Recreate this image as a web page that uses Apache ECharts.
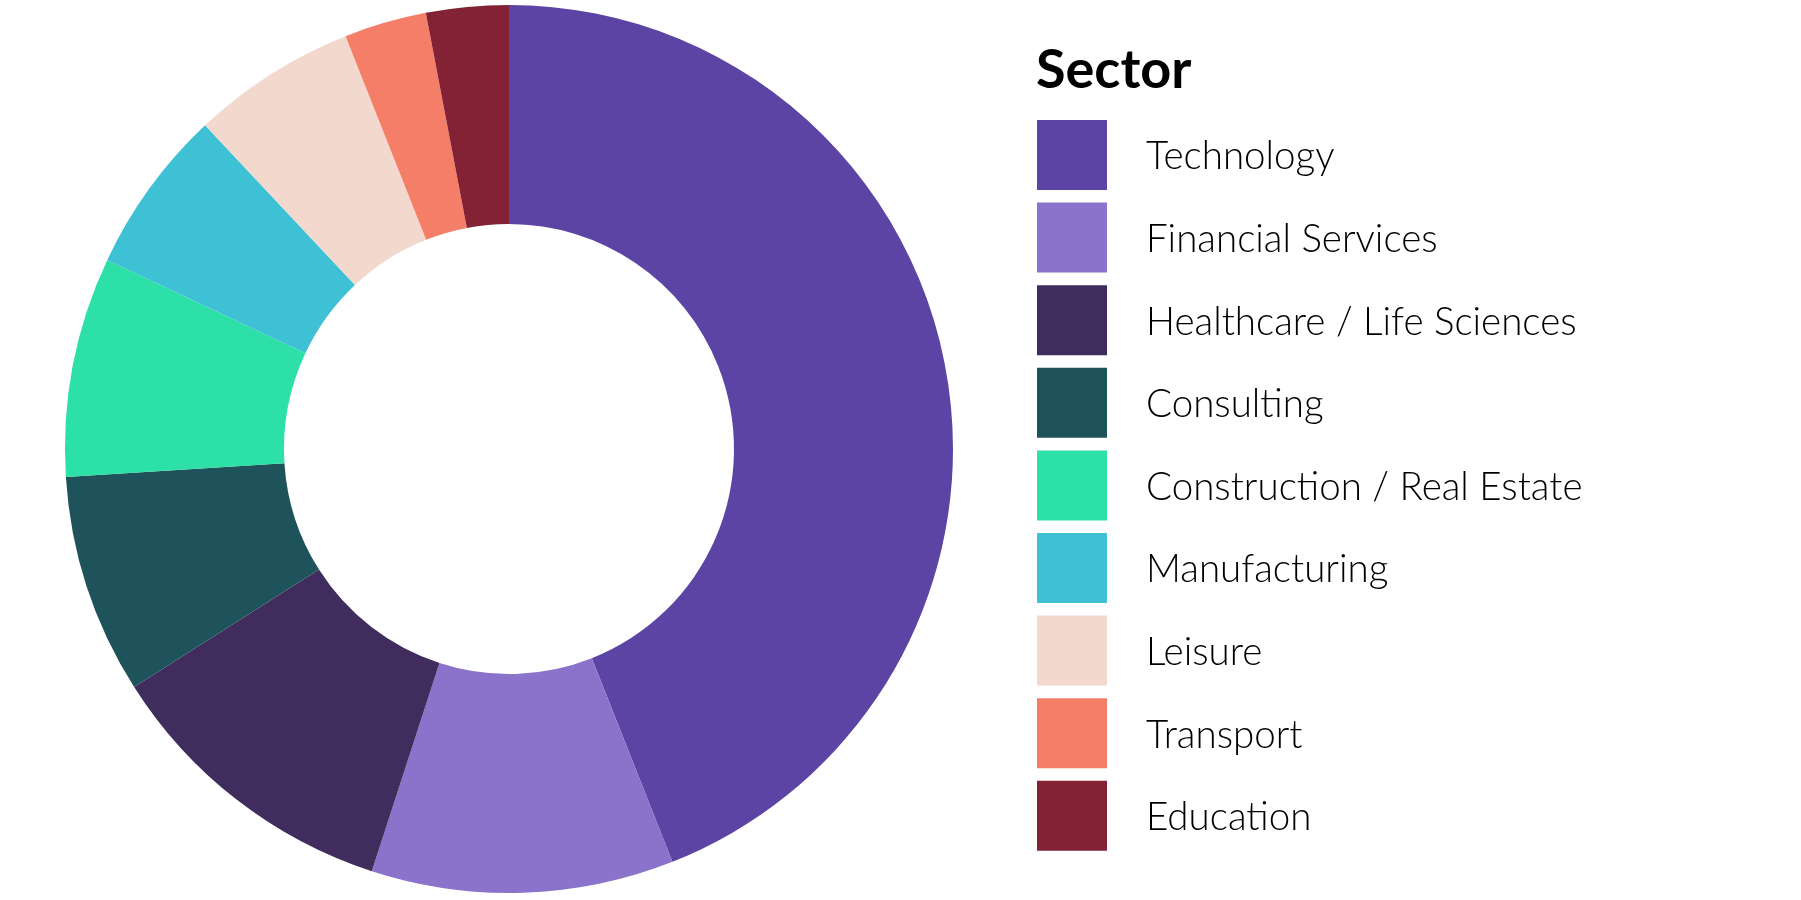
<!DOCTYPE html>
<html>
<head>
<meta charset="utf-8">
<title>Sector</title>
<script src="https://cdn.jsdelivr.net/npm/echarts@6/dist/echarts.min.js"></script>
<style>
  html, body { margin: 0; padding: 0; background: #fff; }
  #chartContainer { width: 1801px; height: 900px; }
</style>
</head>
<body>
<div id="chartContainer"></div>
<script>
// data
const sectors = ['Technology', 'Financial Services', 'Healthcare / Life Sciences', 'Consulting',
  'Construction / Real Estate', 'Manufacturing', 'Leisure', 'Transport', 'Education'];
const shares = [44, 11, 11, 8, 8, 6, 6, 3, 3];
const colours = ['#5c44a4', '#8b72ca', '#412d5d', '#1f535c', '#2de0a7', '#3ec0d5', '#f3d8ce', '#f47e68', '#832234'];

const chart = echarts.init(document.getElementById('chartContainer'));

chart.setOption({
  animation: false,
  title: {
    text: 'Sector',
    left: 1031,
    top: 39,
    textStyle: { fontFamily: 'Lato', fontWeight: 'bold', fontSize: 54, color: '#000' }
  },
  legend: {
    orient: 'vertical',
    left: 1037,
    top: 120,
    padding: 0,
    icon: 'rect',
    itemWidth: 70,
    itemHeight: 70,
    itemGap: 12.6,
    data: sectors,
    formatter: name => '{n|' + name + '}',
    textStyle: {
      padding: [0, 0, 0, 34],
      rich: {
        n: {
          fontFamily: 'Lato',
          fontWeight: 300,
          fontSize: 38.5,
          color: '#000',
          lineHeight: 43,
          verticalAlign: 'bottom'
        }
      }
    }
  },
  series: [{
    type: 'pie',
    center: [509, 449],
    radius: [225, 444],
    startAngle: 90,
    clockwise: true,
    avoidLabelOverlap: false,
    label: { show: false },
    labelLine: { show: false },
    emphasis: { disabled: true },
    itemStyle: { borderWidth: 0 },
    data: sectors.map((name, i) => ({
      name: name,
      value: shares[i],
      itemStyle: { color: colours[i] }
    }))
  }]
});
</script>
</body>
</html>
